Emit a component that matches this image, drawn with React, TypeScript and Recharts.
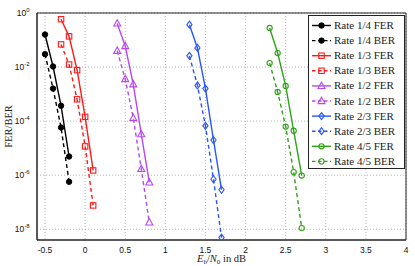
import { LineChart, Line, XAxis, YAxis, CartesianGrid, ReferenceArea } from "recharts";

// Eb/N0 points per code rate
const ebn0R14 = [-0.5, -0.4, -0.3, -0.2];
const ebn0R13 = [-0.3, -0.2, -0.1, 0, 0.1];
const ebn0R12 = [0.4, 0.5, 0.6, 0.7, 0.8];
const ebn0R23 = [1.3, 1.4, 1.5, 1.6, 1.7];
const ebn0R45 = [2.3, 2.4, 2.5, 2.6, 2.7];

const fer14 = [0.16, 1.05e-2, 3.7e-4, 4.9e-6];
const ber14 = [3e-2, 1.6e-3, 5.8e-5, 5.7e-7];
const fer13 = [0.59, 0.137, 7.7e-3, 1.44e-4, 1.5e-6];
const ber13 = [0.069, 0.0124, 6.4e-4, 1.16e-5, 7.6e-8];
const fer12 = [0.41, 0.06, 2.3e-3, 3.3e-5, 5.4e-7];
const ber12 = [0.04, 3.6e-3, 1.3e-4, 1.7e-6, 1.8e-8];
const fer23 = [0.37, 0.051, 1.6e-3, 2e-5, 2.9e-7];
const ber23 = [0.026, 2.1e-3, 6.7e-5, 7.1e-7, 4.9e-9];
const fer45 = [0.28, 0.033, 2e-3, 4.4e-5, 9.7e-7];
const ber45 = [0.014, 1.2e-3, 6.3e-5, 1.3e-6, 1.1e-8];

const xTicks = [-0.5, 0, 0.5, 1, 1.5, 2, 2.5, 3, 3.5, 4];
const yTicks = [1e-8, 1e-6, 1e-4, 1e-2, 1];

const BLACK = "#000000";
const RED = "#ff1a1a";
const PURPLE = "#b848f0";
const BLUE = "#2655ff";
const GREEN = "#2ea318";

type Marker = "dot" | "square" | "triangle" | "diamond" | "circle";

const series = [
  { name: "Rate 1/4 FER", xs: ebn0R14, ys: fer14, color: BLACK, marker: "dot" as Marker, dashed: false },
  { name: "Rate 1/4 BER", xs: ebn0R14, ys: ber14, color: BLACK, marker: "dot" as Marker, dashed: true },
  { name: "Rate 1/3 FER", xs: ebn0R13, ys: fer13, color: RED, marker: "square" as Marker, dashed: false },
  { name: "Rate 1/3 BER", xs: ebn0R13, ys: ber13, color: RED, marker: "square" as Marker, dashed: true },
  { name: "Rate 1/2 FER", xs: ebn0R12, ys: fer12, color: PURPLE, marker: "triangle" as Marker, dashed: false },
  { name: "Rate 1/2 BER", xs: ebn0R12, ys: ber12, color: PURPLE, marker: "triangle" as Marker, dashed: true },
  { name: "Rate 2/3 FER", xs: ebn0R23, ys: fer23, color: BLUE, marker: "diamond" as Marker, dashed: false },
  { name: "Rate 2/3 BER", xs: ebn0R23, ys: ber23, color: BLUE, marker: "diamond" as Marker, dashed: true },
  { name: "Rate 4/5 FER", xs: ebn0R45, ys: fer45, color: GREEN, marker: "circle" as Marker, dashed: false },
  { name: "Rate 4/5 BER", xs: ebn0R45, ys: ber45, color: GREEN, marker: "circle" as Marker, dashed: true },
];

function MarkerShape({ cx, cy, color, marker }: { cx: number; cy: number; color: string; marker: Marker }) {
  if (cx == null || cy == null || isNaN(cx) || isNaN(cy)) return null;
  switch (marker) {
    case "dot":
      return <circle cx={cx} cy={cy} r={2.7} fill={color} stroke={color} />;
    case "square":
      return <rect x={cx - 2.7} y={cy - 2.7} width={5.4} height={5.4} fill="none" stroke={color} strokeWidth={1.1} />;
    case "triangle":
      return (
        <polygon
          points={`${cx},${cy - 3.8} ${cx - 3.5},${cy + 2.6} ${cx + 3.5},${cy + 2.6}`}
          fill="none"
          stroke={color}
          strokeWidth={1.1}
        />
      );
    case "diamond":
      return (
        <polygon
          points={`${cx},${cy - 3.5} ${cx + 2.6},${cy} ${cx},${cy + 3.5} ${cx - 2.6},${cy}`}
          fill="none"
          stroke={color}
          strokeWidth={1.1}
        />
      );
    default:
      return <circle cx={cx} cy={cy} r={2.6} fill="none" stroke={color} strokeWidth={1.1} />;
  }
}

const YTick = (props: any) => {
  const { y, payload } = props;
  const exp = Math.round(Math.log10(payload.value));
  // right edge of label sits ~8px left of the axis line
  return (
    <text x={29.5} y={y + 3} textAnchor="end" fontFamily="Liberation Sans" fontSize={8.5} fill="#111">
      <tspan>10</tspan>
      <tspan dy={-4} fontSize={6}>{exp}</tspan>
    </text>
  );
};

const XTick = (props: any) => {
  const { x, payload } = props;
  return (
    <text x={x} y={252.5} textAnchor="middle" fontFamily="Liberation Sans" fontSize={8.5} fill="#111">
      {String(payload.value)}
    </text>
  );
};

function LegendBox() {
  return (
    <div
      style={{
        position: "absolute",
        left: 308,
        top: 15,
        width: 97,
        height: 154,
        background: "#fff",
        border: "1px solid #222",
        boxSizing: "border-box",
      }}
    >
      <svg width={97} height={154} style={{ display: "block" }}>
        {series.map((s, i) => {
          const cy = 9.5 + i * 15.1;
          return (
            <g key={s.name}>
              <line
                x1={3}
                x2={22}
                y1={cy}
                y2={cy}
                stroke={s.color}
                strokeWidth={1.4}
                strokeDasharray={s.dashed ? "3.5 2.5" : undefined}
              />
              <MarkerShape cx={12.5} cy={cy} color={s.color} marker={s.marker} />
              <text x={25} y={cy + 3.5} fontFamily="Liberation Serif" fontSize={11} fill="#222">
                {s.name}
              </text>
            </g>
          );
        })}
      </svg>
    </div>
  );
}

export default function App() {
  return (
    <div style={{ position: "absolute", left: 0, top: 0, width: 415, height: 266, background: "#fff" }}>
      <LineChart width={415} height={266} margin={{ top: 13, right: 9, bottom: 0, left: 0 }}>
        <CartesianGrid stroke="#b5b5b5" strokeDasharray="1 2" horizontalValues={yTicks} verticalValues={xTicks} />
        <XAxis
          dataKey="x"
          type="number"
          domain={[-0.6, 4]}
          ticks={xTicks}
          allowDataOverflow
          height={26}
          tick={<XTick />}
          tickLine={false}
          axisLine={{ stroke: "#222" }}
          label={{
            content: () => (
              <text x={221.5} y={262} textAnchor="middle" fontFamily="Liberation Serif" fontSize={10.5} fill="#222">
                <tspan fontStyle="italic">E</tspan>
                <tspan dy={2} fontSize={7}>b</tspan>
                <tspan dy={-2}>/</tspan>
                <tspan fontStyle="italic">N</tspan>
                <tspan dy={2} fontSize={7}>0</tspan>
                <tspan dy={-2}> in dB</tspan>
              </text>
            ),
          }}
        />
        {/* inward tick marks on all four sides of the box */}
        <XAxis xAxisId="bin" type="number" orientation="bottom" mirror domain={[-0.6, 4]} ticks={xTicks} allowDataOverflow tick={false} tickSize={3} axisLine={false} tickLine={{ stroke: "#222" }} />
        <XAxis xAxisId="top" type="number" orientation="top" mirror domain={[-0.6, 4]} ticks={xTicks} allowDataOverflow tick={false} tickSize={3} axisLine={false} tickLine={{ stroke: "#222" }} />
        <YAxis
          type="number"
          scale="log"
          domain={[4e-9, 1]}
          ticks={yTicks}
          allowDataOverflow
          width={37}
          tick={<YTick />}
          tickLine={false}
          axisLine={{ stroke: "#222" }}
          label={{
            content: () => (
              <text
                x={11.5}
                y={126.5}
                transform="rotate(-90 11.5 126.5)"
                textAnchor="middle"
                fontFamily="Liberation Serif"
                fontSize={10.5}
                fill="#222"
              >
                FER/BER
              </text>
            ),
          }}
        />
        <YAxis yAxisId="lin" type="number" scale="log" orientation="left" mirror domain={[4e-9, 1]} ticks={yTicks} allowDataOverflow tick={false} tickSize={3} axisLine={false} tickLine={{ stroke: "#222" }} />
        <YAxis yAxisId="rin" type="number" scale="log" orientation="right" mirror domain={[4e-9, 1]} ticks={yTicks} allowDataOverflow tick={false} tickSize={3} axisLine={false} tickLine={{ stroke: "#222" }} />
        <ReferenceArea x1={-0.6} x2={4} y1={4e-9} y2={1} fill="none" stroke="#222" strokeWidth={1} ifOverflow="visible" />
        {series.map((s) => (
          <Line
            key={s.name}
            data={s.xs.map((x, i) => ({ x, y: s.ys[i] }))}
            dataKey="y"
            type="linear"
            stroke={s.color}
            strokeWidth={1.4}
            strokeDasharray={s.dashed ? "4 3" : undefined}
            dot={(p: any) => <MarkerShape key={`${s.name}-${p.index}`} cx={p.cx} cy={p.cy} color={s.color} marker={s.marker} />}
            activeDot={false}
            isAnimationActive={false}
          />
        ))}
      </LineChart>
      <LegendBox />
    </div>
  );
}
